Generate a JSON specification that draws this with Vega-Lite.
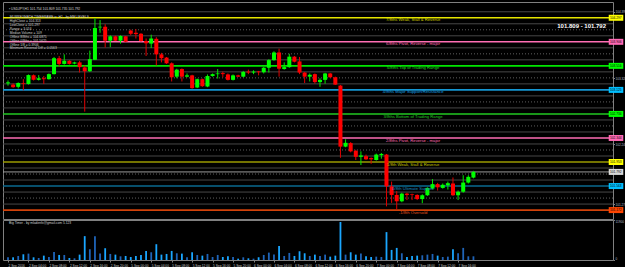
{
  "$schema": "https://vega.github.io/schema/vega-lite/v6.json",
  "background": "#000000",
  "padding": {"left": 1, "top": 1, "right": 0, "bottom": 0},
  "autosize": {"type": "pad"},
  "bounds": "flush",
  "spacing": 1,
  "config": {"view": {"stroke": "#808080", "strokeWidth": 1}, "font": "Liberation Sans",
    "axisY": {"orient": "right", "labelFontSize": 3.1, "labelColor": "#b4bec8", "labelPadding": 0.5, "ticks": true, "tickSize": 1.5, "tickColor": "#808080", "domain": false, "grid": false, "title": null, "labelOverlap": false, "labelFlush": false, "labelBound": false},
    "axisX": {"labelAlign": "left", "labelFontSize": 3.2, "labelColor": "#c8c8c8", "labelPadding": 1.5, "tickSize": 2, "tickColor": "#808080", "domain": false, "grid": false, "title": null, "labelOverlap": false, "labelFlush": false, "labelBound": false}
  },
  "datasets": {
    "bars": [
      {"i":0,"o":103.231,"h":103.278,"l":103.195,"c":103.247,"v":800},
      {"i":1,"o":103.211,"h":103.231,"l":103.159,"c":103.169,"v":800},
      {"i":2,"o":103.175,"h":103.247,"l":103.149,"c":103.237,"v":1200},
      {"i":3,"o":103.237,"h":103.299,"l":103.118,"c":103.226,"v":1700},
      {"i":4,"o":103.221,"h":103.376,"l":103.211,"c":103.366,"v":1900},
      {"i":5,"o":103.361,"h":103.376,"l":103.278,"c":103.288,"v":800},
      {"i":6,"o":103.288,"h":103.366,"l":103.278,"c":103.314,"v":600},
      {"i":7,"o":103.314,"h":103.350,"l":103.221,"c":103.299,"v":1300},
      {"i":8,"o":103.299,"h":103.392,"l":103.293,"c":103.381,"v":900},
      {"i":9,"o":103.381,"h":103.660,"l":103.376,"c":103.640,"v":2400},
      {"i":10,"o":103.640,"h":103.676,"l":103.505,"c":103.547,"v":1500},
      {"i":11,"o":103.547,"h":103.702,"l":103.536,"c":103.598,"v":1500},
      {"i":12,"o":103.598,"h":103.609,"l":103.536,"c":103.547,"v":600},
      {"i":13,"o":103.552,"h":103.583,"l":103.541,"c":103.572,"v":500},
      {"i":14,"o":103.572,"h":103.598,"l":103.407,"c":103.495,"v":1600},
      {"i":15,"o":103.490,"h":103.521,"l":102.772,"c":103.428,"v":7100},
      {"i":16,"o":103.428,"h":103.764,"l":103.417,"c":103.624,"v":3200},
      {"i":17,"o":103.614,"h":104.285,"l":103.609,"c":104.130,"v":7100},
      {"i":18,"o":104.141,"h":104.260,"l":104.053,"c":104.151,"v":1900},
      {"i":19,"o":104.151,"h":104.192,"l":103.815,"c":103.924,"v":3500},
      {"i":20,"o":103.924,"h":104.012,"l":103.820,"c":103.996,"v":1800},
      {"i":21,"o":103.996,"h":104.006,"l":103.919,"c":103.924,"v":1600},
      {"i":22,"o":103.924,"h":104.012,"l":103.877,"c":104.001,"v":1100},
      {"i":23,"o":103.996,"h":104.001,"l":103.898,"c":103.908,"v":1200},
      {"i":24,"o":104.089,"h":104.105,"l":104.012,"c":104.037,"v":900},
      {"i":25,"o":104.053,"h":104.115,"l":103.960,"c":104.032,"v":1200},
      {"i":26,"o":104.037,"h":104.048,"l":103.908,"c":103.919,"v":1500},
      {"i":27,"o":103.919,"h":103.960,"l":103.676,"c":103.882,"v":2700},
      {"i":28,"o":103.877,"h":104.022,"l":103.805,"c":103.960,"v":2300},
      {"i":29,"o":103.955,"h":103.981,"l":103.521,"c":103.702,"v":4700},
      {"i":30,"o":103.702,"h":103.727,"l":103.572,"c":103.640,"v":1600},
      {"i":31,"o":103.650,"h":103.660,"l":103.547,"c":103.557,"v":1800},
      {"i":32,"o":103.557,"h":103.572,"l":103.262,"c":103.330,"v":2700},
      {"i":33,"o":103.340,"h":103.469,"l":103.314,"c":103.454,"v":2000},
      {"i":34,"o":103.464,"h":103.474,"l":103.262,"c":103.340,"v":1900},
      {"i":35,"o":103.340,"h":103.392,"l":103.330,"c":103.361,"v":800},
      {"i":36,"o":103.361,"h":103.371,"l":103.144,"c":103.154,"v":2300},
      {"i":37,"o":103.164,"h":103.309,"l":103.154,"c":103.299,"v":1500},
      {"i":38,"o":103.299,"h":103.309,"l":103.175,"c":103.185,"v":1300},
      {"i":39,"o":103.180,"h":103.376,"l":103.169,"c":103.350,"v":1800},
      {"i":40,"o":103.350,"h":103.392,"l":103.340,"c":103.381,"v":900},
      {"i":41,"o":103.381,"h":103.464,"l":103.309,"c":103.392,"v":1500},
      {"i":42,"o":103.397,"h":103.423,"l":103.330,"c":103.381,"v":900},
      {"i":43,"o":103.376,"h":103.392,"l":103.278,"c":103.288,"v":1100},
      {"i":44,"o":103.288,"h":103.376,"l":103.278,"c":103.361,"v":900},
      {"i":45,"o":103.361,"h":103.371,"l":103.335,"c":103.340,"v":400},
      {"i":46,"o":103.340,"h":103.433,"l":103.330,"c":103.417,"v":800},
      {"i":47,"o":103.423,"h":103.454,"l":103.381,"c":103.407,"v":500},
      {"i":48,"o":103.407,"h":103.443,"l":103.381,"c":103.423,"v":400},
      {"i":49,"o":103.423,"h":103.433,"l":103.361,"c":103.412,"v":800},
      {"i":50,"o":103.412,"h":103.495,"l":103.392,"c":103.485,"v":1500},
      {"i":51,"o":103.485,"h":103.624,"l":103.407,"c":103.609,"v":2200},
      {"i":52,"o":103.609,"h":103.753,"l":103.598,"c":103.733,"v":1600},
      {"i":53,"o":103.733,"h":103.795,"l":103.340,"c":103.469,"v":4200},
      {"i":54,"o":103.464,"h":103.572,"l":103.454,"c":103.495,"v":1200},
      {"i":55,"o":103.495,"h":103.712,"l":103.485,"c":103.665,"v":2100},
      {"i":56,"o":103.665,"h":103.676,"l":103.572,"c":103.583,"v":1200},
      {"i":57,"o":103.588,"h":103.660,"l":103.381,"c":103.407,"v":2600},
      {"i":58,"o":103.407,"h":103.417,"l":103.237,"c":103.340,"v":2000},
      {"i":59,"o":103.340,"h":103.392,"l":103.262,"c":103.371,"v":1200},
      {"i":60,"o":103.381,"h":103.392,"l":103.226,"c":103.252,"v":1600},
      {"i":61,"o":103.252,"h":103.314,"l":103.175,"c":103.288,"v":1200},
      {"i":62,"o":103.288,"h":103.402,"l":103.226,"c":103.392,"v":1600},
      {"i":63,"o":103.392,"h":103.402,"l":103.319,"c":103.330,"v":1000},
      {"i":64,"o":103.330,"h":103.340,"l":103.206,"c":103.211,"v":1300},
      {"i":65,"o":103.195,"h":103.206,"l":102.022,"c":102.203,"v":11300},
      {"i":66,"o":102.203,"h":102.322,"l":102.193,"c":102.265,"v":1600},
      {"i":67,"o":102.260,"h":102.276,"l":102.110,"c":102.126,"v":2300},
      {"i":68,"o":102.136,"h":102.152,"l":101.986,"c":102.038,"v":1600},
      {"i":69,"o":102.038,"h":102.126,"l":101.904,"c":102.059,"v":1900},
      {"i":70,"o":102.048,"h":102.074,"l":101.986,"c":101.997,"v":1100},
      {"i":71,"o":102.017,"h":102.028,"l":101.924,"c":101.997,"v":900},
      {"i":72,"o":101.986,"h":102.090,"l":101.976,"c":102.074,"v":1000},
      {"i":73,"o":102.064,"h":102.100,"l":102.007,"c":102.084,"v":900},
      {"i":74,"o":102.074,"h":102.084,"l":101.232,"c":101.557,"v":8300},
      {"i":75,"o":101.557,"h":101.635,"l":101.289,"c":101.418,"v":3000},
      {"i":76,"o":101.418,"h":101.480,"l":101.180,"c":101.315,"v":3600},
      {"i":77,"o":101.315,"h":101.454,"l":101.299,"c":101.439,"v":2000},
      {"i":78,"o":101.439,"h":101.454,"l":101.335,"c":101.418,"v":900},
      {"i":79,"o":101.428,"h":101.439,"l":101.335,"c":101.418,"v":1200},
      {"i":80,"o":101.418,"h":101.428,"l":101.335,"c":101.351,"v":1300},
      {"i":81,"o":101.351,"h":101.428,"l":101.284,"c":101.413,"v":1400},
      {"i":82,"o":101.413,"h":101.542,"l":101.402,"c":101.532,"v":1600},
      {"i":83,"o":101.521,"h":101.676,"l":101.506,"c":101.594,"v":1800},
      {"i":84,"o":101.594,"h":101.614,"l":101.490,"c":101.542,"v":1300},
      {"i":85,"o":101.532,"h":101.604,"l":101.521,"c":101.583,"v":900},
      {"i":86,"o":101.573,"h":101.635,"l":101.506,"c":101.609,"v":1000},
      {"i":87,"o":101.604,"h":101.702,"l":101.402,"c":101.413,"v":3200},
      {"i":88,"o":101.413,"h":101.490,"l":101.335,"c":101.470,"v":2000},
      {"i":89,"o":101.470,"h":101.738,"l":101.454,"c":101.619,"v":3600},
      {"i":90,"o":101.619,"h":101.738,"l":101.604,"c":101.712,"v":1100},
      {"i":91,"o":101.700,"h":101.809,"l":101.687,"c":101.792,"v":1100}
    ],
    "grid": [
      {"p":101.269531,"kind":"s"},{"p":101.367188,"kind":"d"},{"p":101.464844,"kind":"s"},
      {"p":101.660156,"kind":"s"},{"p":101.757813,"kind":"d"},{"p":101.855469,"kind":"s"},
      {"p":102.050781,"kind":"s"},{"p":102.148438,"kind":"d"},{"p":102.246094,"kind":"s"},
      {"p":102.441406,"kind":"s"},{"p":102.539063,"kind":"d"},{"p":102.636719,"kind":"s"},
      {"p":102.832031,"kind":"s"},{"p":102.929688,"kind":"d"},{"p":103.027344,"kind":"s"},
      {"p":103.222656,"kind":"s"},{"p":103.320313,"kind":"d"},{"p":103.417969,"kind":"s"},
      {"p":103.613281,"kind":"s"},{"p":103.710938,"kind":"d"},{"p":103.808594,"kind":"s"},
      {"p":104.003906,"kind":"s"},{"p":104.101563,"kind":"d"},{"p":104.199219,"kind":"s"},
      {"p":104.394531,"kind":"s"}
    ],
    "mm": [
      {"lvl":"-1/8","p":101.171875,"label":"-1/8th Oversold"},
      {"lvl":"0/8","p":101.5625,"label":"0/8th Ultimate Support"},
      {"lvl":"1/8","p":101.953125,"label":"1/8th Weak, Stall & Reverse"},
      {"lvl":"2/8","p":102.34375,"label":"2/8ths Pivot, Reverse - major"},
      {"lvl":"3/8","p":102.734375,"label":"3/8ths Bottom of Trading Range"},
      {"lvl":"4/8","p":103.125,"label":"4/8ths Major Support/Resistance"},
      {"lvl":"5/8","p":103.515625,"label":"5/8ths Top of Trading Range"},
      {"lvl":"6/8","p":103.90625,"label":"6/8ths Pivot, Reverse - major"},
      {"lvl":"7/8","p":104.296875,"label":"7/8ths Weak, Stall & Reverse"}
    ]
  },
  "vconcat": [
    {
      "width": 610,
      "height": 217,
      "resolve": {"scale": {"color": "independent"}},
      "layer": [
        {
          "data": {"name": "grid"},
          "transform": [{"filter": "datum.kind == 's'"}],
          "mark": {"type": "rule", "color": "#474747", "strokeWidth": 1},
          "encoding": {
            "y": {"field": "p", "type": "quantitative", "scale": {"domain": [101.1083, 104.472], "nice": false, "zero": false},
              "axis": {"values": [101.269531,101.367188,101.464844,101.660156,101.757813,101.855469,102.050781,102.148438,102.246094,102.441406,102.539063,102.636719,102.832031,102.929688,103.027344,103.222656,103.320313,103.417969,103.613281,103.710938,103.808594,104.003906,104.101563,104.199219,104.394531], "format": ".3f"}}
          }
        },
        {
          "data": {"name": "grid"},
          "transform": [{"filter": "datum.kind == 'd'"}],
          "mark": {"type": "rule", "color": "#5e5e5e", "strokeWidth": 1, "strokeDash": [1, 2]},
          "encoding": {
            "y": {"field": "p", "type": "quantitative", "scale": {"domain": [101.1083, 104.472], "nice": false, "zero": false}}
          }
        },
        {
          "data": {"name": "mm"},
          "mark": {"type": "rule", "strokeWidth": 1.6},
          "encoding": {
            "y": {"field": "p", "type": "quantitative", "scale": {"domain": [101.1083, 104.472], "nice": false, "zero": false}},
            "color": {"field": "lvl", "type": "nominal", "legend": null,
              "scale": {"domain": ["-1/8","0/8","1/8","2/8","3/8","4/8","5/8","6/8","7/8"], "range": ["#d2420a","#0a6a90","#9a9a00","#ff6eb4","#22c822","#1496d2","#00e600","#ff6eb4","#e6e600"]}}
          }
        },
        {
          "data": {"name": "bars"},
          "transform": [{"filter": "datum.i == 91"}],
          "mark": {"type": "rule", "color": "#9a9a9a", "strokeWidth": 1},
          "encoding": {
            "y": {"field": "c", "type": "quantitative", "scale": {"domain": [101.1083, 104.472], "nice": false, "zero": false}}
          }
        },
        {
          "data": {"name": "bars"},
          "mark": {"type": "rule", "strokeWidth": 1},
          "encoding": {
            "x": {"field": "i", "type": "quantitative", "scale": {"domain": [0, 117.31], "nice": false, "zero": false}, "axis": null},
            "y": {"field": "l", "type": "quantitative", "scale": {"domain": [101.1083, 104.472], "nice": false, "zero": false}},
            "y2": {"field": "h"},
            "color": {"condition": {"test": "datum.c >= datum.o", "value": "#00e800"}, "value": "#e00000"}
          }
        },
        {
          "data": {"name": "bars"},
          "mark": {"type": "bar", "orient": "vertical", "size": 4},
          "encoding": {
            "x": {"field": "i", "type": "quantitative", "scale": {"domain": [0, 117.31], "nice": false, "zero": false}, "axis": null},
            "y": {"field": "o", "type": "quantitative", "scale": {"domain": [101.1083, 104.472], "nice": false, "zero": false}},
            "y2": {"field": "c"},
            "color": {"condition": {"test": "datum.c >= datum.o", "value": "#00ff00"}, "value": "#ff0000"}
          }
        },
        {
          "data": {"name": "mm"},
          "mark": {"type": "text", "fontSize": 4.2, "align": "center", "baseline": "top", "dy": 0.6},
          "encoding": {
            "x": {"datum": 79.2, "type": "quantitative", "scale": {"domain": [0, 117.31], "nice": false, "zero": false}, "axis": null},
            "y": {"field": "p", "type": "quantitative", "scale": {"domain": [101.1083, 104.472], "nice": false, "zero": false}},
            "text": {"field": "label"},
            "color": {"field": "lvl", "type": "nominal", "legend": null,
              "scale": {"domain": ["-1/8","0/8","1/8","2/8","3/8","4/8","5/8","6/8","7/8"], "range": ["#e8501c","#1a8cc0","#c8c800","#ff6eb4","#22cc22","#1aa0e0","#22dd22","#ff6eb4","#d2d200"]}}
          }
        },
        {
          "data": {"name": "mm"},
          "mark": {"type": "bar", "orient": "horizontal", "size": 6},
          "encoding": {
            "x": {"datum": 117.45, "type": "quantitative", "scale": {"domain": [0, 117.31], "nice": false, "zero": false}, "axis": null},
            "x2": {"datum": 120.3},
            "y": {"field": "p", "type": "quantitative", "scale": {"domain": [101.1083, 104.472], "nice": false, "zero": false}},
            "color": {"field": "lvl", "type": "nominal", "legend": null,
              "scale": {"domain": ["-1/8","0/8","1/8","2/8","3/8","4/8","5/8","6/8","7/8"], "range": ["#ff4500","#00bfff","#ffff00","#ff69b4","#00ff00","#00bfff","#00ff00","#ff69b4","#ffff00"]}}
          }
        },
        {
          "data": {"name": "bars"},
          "transform": [{"filter": "datum.i == 91"}],
          "mark": {"type": "bar", "orient": "horizontal", "size": 6, "color": "#d8d8d8"},
          "encoding": {
            "x": {"datum": 117.45, "type": "quantitative", "scale": {"domain": [0, 117.31], "nice": false, "zero": false}, "axis": null},
            "x2": {"datum": 120.3},
            "y": {"field": "c", "type": "quantitative", "scale": {"domain": [101.1083, 104.472], "nice": false, "zero": false}}
          }
        },
        {
          "data": {"name": "mm"},
          "mark": {"type": "text", "fontSize": 3.2, "align": "left", "baseline": "middle", "color": "#000000"},
          "encoding": {
            "x": {"datum": 117.7, "type": "quantitative", "scale": {"domain": [0, 117.31], "nice": false, "zero": false}, "axis": null},
            "y": {"field": "p", "type": "quantitative", "scale": {"domain": [101.1083, 104.472], "nice": false, "zero": false}},
            "text": {"field": "p", "type": "quantitative", "format": ".3f"}
          }
        },
        {
          "data": {"name": "bars"},
          "transform": [{"filter": "datum.i == 91"}],
          "mark": {"type": "text", "fontSize": 3.2, "align": "left", "baseline": "middle", "color": "#000000"},
          "encoding": {
            "x": {"datum": 117.7, "type": "quantitative", "scale": {"domain": [0, 117.31], "nice": false, "zero": false}, "axis": null},
            "y": {"field": "c", "type": "quantitative", "scale": {"domain": [101.1083, 104.472], "nice": false, "zero": false}},
            "text": {"field": "c", "type": "quantitative", "format": ".3f"}
          }
        },
        {
          "data": {"values": [{"t": "101.809 - 101.792"}]},
          "mark": {"type": "text", "fontSize": 6, "fontWeight": "bold", "align": "right", "baseline": "middle", "color": "#ffffff"},
          "encoding": {
            "x": {"datum": 116.92, "type": "quantitative", "scale": {"domain": [0, 117.31], "nice": false, "zero": false}, "axis": null},
            "y": {"datum": 104.1667, "type": "quantitative", "scale": {"domain": [101.1083, 104.472], "nice": false, "zero": false}},
            "text": {"field": "t"}
          }
        },
        {
          "data": {"values": [{"t": "\u25aa USDJPY,H1  101.754 101.809 101.735 101.792"}]},
          "mark": {"type": "text", "fontSize": 3.3, "align": "left", "baseline": "middle", "color": "#d8d8d8"},
          "encoding": {
            "x": {"datum": 0.2, "type": "quantitative", "scale": {"domain": [0, 117.31], "nice": false, "zero": false}, "axis": null},
            "y": {"datum": 104.4364, "type": "quantitative", "scale": {"domain": [101.1083, 104.472], "nice": false, "zero": false}},
            "text": {"field": "t"}
          }
        },
        {
          "data": {"values": [{"t": "info"}]},
          "mark": {"type": "text", "fontSize": 3.3, "lineHeight": 3.96, "align": "left", "baseline": "top", "color": "#cfcfcf",
            "text": ["MURREYMATH TIMEFRAME is: H1 - by MM LEVELS", "HighClose = 104.313", "LowClose = 101.297", "Range = 3.016", "Median Volume = 109", "Offline 8/8ths = 104.6875", "Offline 0/8ths = 101.5625", "Offline 1/8 = 0.3906", "Minimum Reversal Diff = 0.0563"]},
          "encoding": {
            "x": {"datum": 0.35, "type": "quantitative", "scale": {"domain": [0, 117.31], "nice": false, "zero": false}, "axis": null},
            "y": {"datum": 104.345, "type": "quantitative", "scale": {"domain": [101.1083, 104.472], "nice": false, "zero": false}}
          }
        }
      ]
    },
    {
      "width": 610,
      "height": 40,
      "encoding": {
        "x": {"field": "i", "type": "quantitative", "scale": {"domain": [0, 117.31], "nice": false, "zero": false},
          "axis": {"values": [0,4,8,12,16,20,24,28,32,36,40,44,48,52,56,60,64,68,72,76,80,84,88],
            "labelExpr": "['2 Sep 2016','2 Sep 04:00','2 Sep 08:00','2 Sep 12:00','2 Sep 16:00','2 Sep 20:00','5 Sep 00:00','5 Sep 04:00','5 Sep 08:00','5 Sep 12:00','5 Sep 16:00','5 Sep 20:00','6 Sep 00:00','6 Sep 04:00','6 Sep 08:00','6 Sep 12:00','6 Sep 16:00','6 Sep 20:00','7 Sep 00:00','7 Sep 04:00','7 Sep 08:00','7 Sep 12:00','7 Sep 16:00'][floor(datum.value / 4)]"}},
        "y": {"field": "v", "type": "quantitative", "scale": {"domain": [0, 11900], "nice": false},
          "axis": {"values": [0, 11900], "format": "d", "labelFlush": true}}
      },
      "layer": [
        {
          "data": {"name": "bars"},
          "mark": {"type": "bar", "orient": "vertical", "size": 1.8},
          "encoding": {
            "color": {"condition": {"test": "datum.c < datum.o", "value": "#1aa6ff"}, "value": "#1f64b8"}
          }
        },
        {
          "data": {"values": [{"t": "Big Timer - by mladenfx@gmail.com  5.123", "i": 0.2, "v": 11100}]},
          "mark": {"type": "text", "fontSize": 3.3, "align": "left", "baseline": "middle", "color": "#cfcfcf"},
          "encoding": {
            "text": {"field": "t"}
          }
        }
      ]
    }
  ]
}
